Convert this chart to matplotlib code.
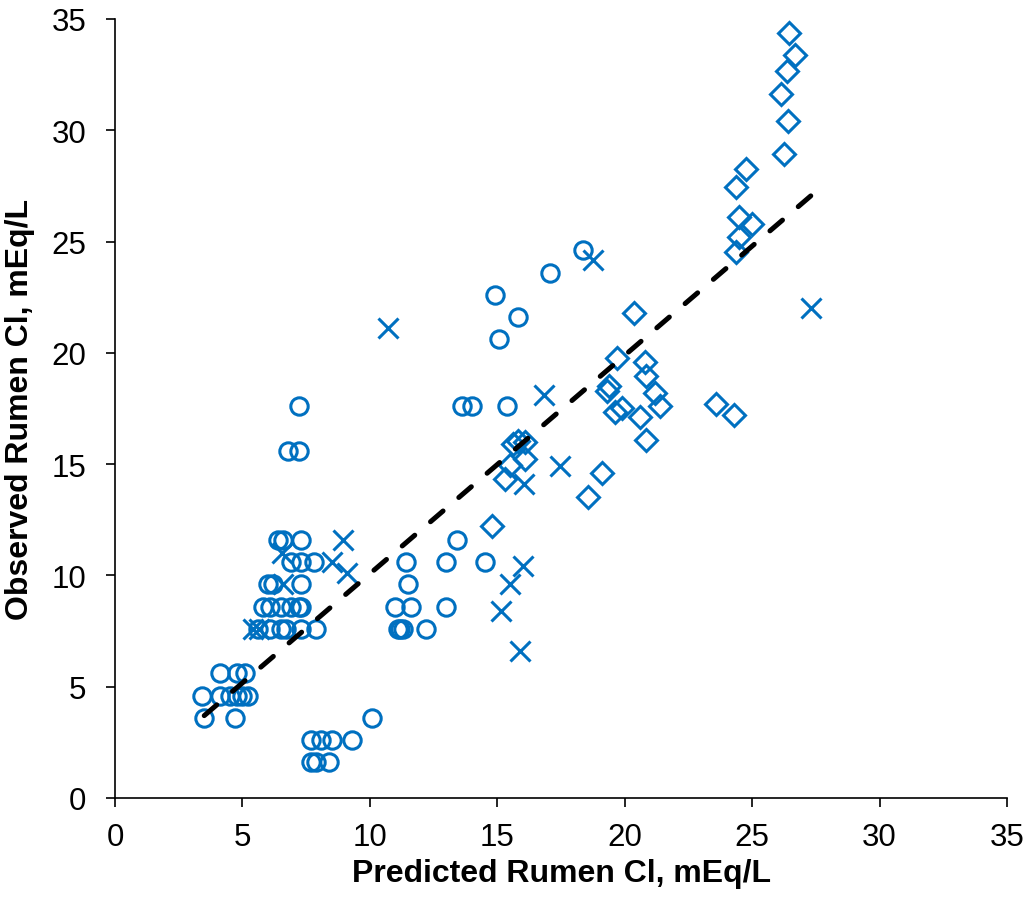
from matplotlib import pyplot as plt
import numpy as np

blue = '#0070C0'

# circles: grouped by observed value
circ_x = [7.7, 7.9, 8.4,
          7.7, 8.1, 8.5, 9.3,
          3.5, 4.7, 10.1,
          3.4, 4.1, 4.5, 4.8, 5.0, 5.2,
          4.1, 4.8, 5.1,
          5.6, 6.1, 6.5, 6.7, 7.3, 7.9, 11.1, 11.2, 11.3, 12.2,
          5.8, 6.1, 6.5, 6.9, 7.2, 7.3, 11.0, 11.6, 13.0,
          6.0, 6.2, 7.3, 11.5,
          6.9, 7.3, 7.8, 11.4, 13.0, 14.5,
          6.4, 6.6, 7.3, 13.4,
          6.8, 7.2,
          7.2, 13.6, 14.0, 15.4,
          15.05, 15.8, 14.9, 17.05, 18.35]
circ_y = [1.6]*3 + [2.6]*4 + [3.6]*3 + [4.6]*6 + [5.6]*3 + [7.6]*10 + [8.6]*9 \
    + [9.6]*4 + [10.6]*6 + [11.6]*4 + [15.6]*2 + [17.6]*4 \
    + [20.6, 21.6, 22.6, 23.6, 24.6]

cross_x = [5.4, 5.65, 6.6, 6.55, 8.5, 8.95, 9.1, 10.7, 15.15, 15.5, 15.9,
           16.0, 16.05, 16.85, 17.45, 18.75, 27.3]
cross_y = [7.6, 7.6, 9.6, 11.0, 10.6, 11.6, 10.1, 21.1, 8.4, 9.6, 6.6,
           10.4, 14.1, 18.1, 14.9, 24.15, 22.0]

diam_x = [14.8, 15.3, 15.5, 16.1, 15.6, 15.8, 16.1, 18.55, 19.1,
          19.6, 19.9, 20.6, 20.85, 21.4, 21.2, 19.3, 19.4, 20.85, 20.8, 19.7, 20.35,
          23.6, 24.3,
          24.35, 24.5, 25.0, 24.5, 24.35, 24.75,
          26.25, 26.4, 26.15, 26.35, 26.7, 26.45]
diam_y = [12.2, 14.35, 14.95, 15.25, 15.9, 16.05, 16.0, 13.5, 14.6,
          17.35, 17.5, 17.1, 16.1, 17.6, 18.2, 18.3, 18.5, 18.95, 19.6, 19.75, 21.8,
          17.7, 17.2,
          24.55, 25.2, 25.8, 26.1, 27.45, 28.25,
          28.95, 30.4, 31.65, 32.65, 33.4, 34.35]

fit_x = [3.5, 27.3]
fit_y = [3.7, 27.05]

plt.rcParams['font.family'] = ['Liberation Sans', 'DejaVu Sans']
fig = plt.figure(figsize=(10.29, 9.03), dpi=100)
ax = fig.add_axes([0.1118, 0.1152, 0.8668, 0.8627])

ax.plot(circ_x, circ_y, 'o', ls='none', ms=12.5, mfc='none', mec=blue, mew=2.2)
ax.plot(cross_x, cross_y, 'x', ls='none', ms=15, mec=blue, mew=2.2)
ax.plot(diam_x, diam_y, 'D', ls='none', ms=11.5, mfc='none', mec=blue, mew=2.2)
ax.plot(fit_x, fit_y, '--', color='black', lw=3.6, dashes=(3.3, 4.15),
        dash_capstyle='round')

ax.set_xlim(0, 35)
ax.set_ylim(0, 35)
ax.set_xticks(np.arange(0, 36, 5))
ax.set_yticks(np.arange(0, 36, 5))
for s in ['top', 'right']:
    ax.spines[s].set_visible(False)
for s in ['left', 'bottom']:
    ax.spines[s].set_linewidth(1.2)
ax.tick_params(direction='out', length=6.5, width=1.2, labelsize=22.5)
ax.tick_params(axis='x', pad=11)
ax.tick_params(axis='y', pad=14)

ax.set_xlabel('Predicted Rumen Cl, mEq/L', fontsize=23, fontweight='bold', labelpad=4)
ax.set_ylabel('Observed Rumen Cl, mEq/L', fontsize=23, fontweight='bold', labelpad=12)

fig.savefig('out.png', dpi=100)
